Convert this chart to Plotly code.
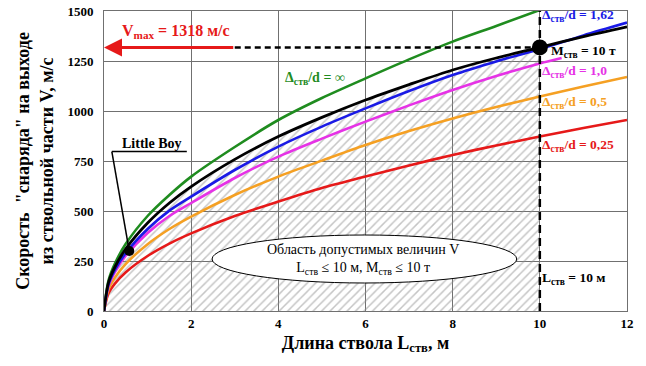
import plotly.graph_objects as go

# ---- data ----
L = [0, 0.1, 0.25, 0.5, 1, 1.5, 2, 3, 4, 5, 6, 7, 8, 9, 10, 11, 12]
V_inf = [0, 150, 237, 336, 475, 580, 672, 820, 955, 1065, 1163, 1258, 1347, 1425, 1505]
V_m10 = [0, 140, 220, 311, 440, 540, 622, 758, 872, 968, 1055, 1132, 1205, 1265, 1318, 1372, 1421]
V_162 = [0, 130, 205, 290, 410, 502, 572, 705, 822, 922, 1013, 1100, 1180, 1248, 1310, 1378, 1442]
L_10 = [0, 0.1, 0.25, 0.5, 1, 1.5, 2, 3, 4, 5, 6, 7, 8, 9, 10, 10.5]
V_10 = [0, 123, 195, 276, 390, 475, 540, 665, 772, 862, 947, 1028, 1105, 1175, 1238, 1265]
V_05 = [0, 105, 167, 236, 334, 410, 472, 580, 672, 752, 830, 900, 963, 1020, 1072, 1122, 1170]
V_025 = [0, 87, 137, 194, 275, 337, 388, 475, 547, 615, 672, 728, 780, 828, 872, 915, 955]

L_MAX = 10
V_MAX = 1318
LB_L, LB_V = 0.58, 300

x_ticks = [0, 2, 4, 6, 8, 10, 12]
y_ticks = [0, 250, 500, 750, 1000, 1250, 1500]

SERIF = "Liberation Serif, Times New Roman, serif"
GREEN = "#1f8c1f"
BLUE = "#1a1ae6"
MAG = "#e632e6"
ORANGE = "#f5a023"
RED = "#e61919"

fig = go.Figure()

# hatched admissible region (under M=10 t curve, L <= 10)
n10 = L.index(L_MAX) + 1
fig.add_trace(go.Scatter(
    x=L[:n10], y=V_m10[:n10], mode="lines", line=dict(width=0, shape="spline"),
    fill="tozeroy", fillcolor="rgba(0,0,0,0)",
    fillpattern=dict(shape="/", fgcolor="#8c8c8c", bgcolor="rgba(0,0,0,0)", size=6, solidity=0.25),
    hoverinfo="skip", showlegend=False))

def curve(x, y, color, width=2.6):
    fig.add_trace(go.Scatter(x=x, y=y, mode="lines",
                             line=dict(color=color, width=width, shape="spline", smoothing=0.8),
                             showlegend=False, hoverinfo="skip"))

curve(L[:len(V_inf)], V_inf, GREEN)
curve(L, V_025, RED)
curve(L, V_05, ORANGE)
curve(L_10, V_10, MAG)
curve(L, V_162, BLUE)
curve(L, V_m10, "black", 2.8)

# points
fig.add_trace(go.Scatter(x=[L_MAX], y=[V_MAX], mode="markers",
                         marker=dict(color="black", size=16), showlegend=False, hoverinfo="skip"))
fig.add_trace(go.Scatter(x=[LB_L], y=[LB_V], mode="markers",
                         marker=dict(color="black", size=10), showlegend=False, hoverinfo="skip"))

# dashed guide lines
fig.add_shape(type="line", x0=L_MAX, x1=L_MAX, y0=0, y1=1500,
              line=dict(color="black", width=2.5, dash="8px,5px"), layer="above")
fig.add_shape(type="line", x0=3, x1=L_MAX, y0=V_MAX, y1=V_MAX,
              line=dict(color="black", width=2.5, dash="6px,4px"), layer="above")

# ellipse
fig.add_shape(type="circle", x0=2.48, x1=9.47, y0=140, y1=380,
              line=dict(color="black", width=1), fillcolor="white", layer="above")

# Little Boy pointer
fig.add_shape(type="line", x0=0.18, x1=1.9, y0=797, y1=797, line=dict(color="black", width=1.5))
fig.add_shape(type="line", x0=0.18, x1=LB_L, y0=797, y1=LB_V, line=dict(color="black", width=1.5))

# red arrow
fig.add_annotation(x=0, y=V_MAX, ax=3, ay=V_MAX, xref="x", yref="y", axref="x", ayref="y",
                   text="", showarrow=True, arrowhead=2, arrowsize=1.2, arrowwidth=3, arrowcolor=RED)

def txt(x, y, s, color, size=13, bold=True, xanchor="left"):
    fig.add_annotation(x=x, y=y, text=s, showarrow=False, xanchor=xanchor, yanchor="middle",
                       font=dict(family=SERIF, size=size, color=color, weight="bold" if bold else "normal"))

txt(0.36, 1400, "V<sub>max</sub> = 1318 м/с", RED, 16)
txt(4.85, 1165, "Δ<sub>ств</sub>/d = ∞", GREEN, 14, xanchor="center")
txt(10.0, 1478, "Δ<sub>ств</sub>/d = 1,62", BLUE, 13.5)
txt(10.2, 1300, "M<sub>ств</sub> = 10 т", "black", 13.5)
txt(10.0, 1198, "Δ<sub>ств</sub>/d = 1,0", MAG, 13.5)
txt(10.0, 1045, "Δ<sub>ств</sub>/d = 0,5", ORANGE, 13.5)
txt(10.0, 830, "Δ<sub>ств</sub>/d = 0,25", RED, 13.5)
txt(10.0, 165, "L<sub>ств</sub> = 10 м", "black", 13.5)
txt(1.1, 840, "Little Boy", "black", 14, xanchor="center")
fig.add_annotation(x=5.95, y=260, showarrow=False, align="center",
                   text="Область допустимых величин V<br>L<sub>ств</sub> ≤ 10 м, M<sub>ств</sub> ≤ 10 т",
                   font=dict(family=SERIF, size=14, color="black"))

fig.update_layout(
    width=646, height=366, margin=dict(l=104, r=19, t=11, b=55, autoexpand=False),
    paper_bgcolor="white", plot_bgcolor="white",
    font=dict(family=SERIF, color="black"),
    xaxis=dict(range=[0, 12], tickvals=x_ticks, showgrid=True, gridcolor="#707070", gridwidth=1,
               showline=True, linecolor="#707070", linewidth=1, mirror=True, zeroline=False,
               automargin=False,
               tickfont=dict(family=SERIF, size=13, weight="bold"),
               title=dict(text="Длина ствола L<sub>ств</sub>, м", standoff=6,
                          font=dict(family=SERIF, size=18, weight="bold"))),
    yaxis=dict(range=[0, 1500], tickvals=y_ticks, showgrid=True, gridcolor="#707070", gridwidth=1,
               showline=True, linecolor="#707070", linewidth=1, mirror=True, zeroline=False,
               automargin=False, ticklabelstandoff=7,
               tickfont=dict(family=SERIF, size=13, weight="bold"), ticklen=0, ticks="",
               title=dict(text="Скорость  \"снаряда\" на выходе<br>из ствольной части V, м/с", standoff=9,
                          font=dict(family=SERIF, size=18, weight="bold"))),
)

fig.write_html("out.html", config={"displayModeBar": False},
               post_script="document.body.style.margin='0';document.body.style.padding='0';")
